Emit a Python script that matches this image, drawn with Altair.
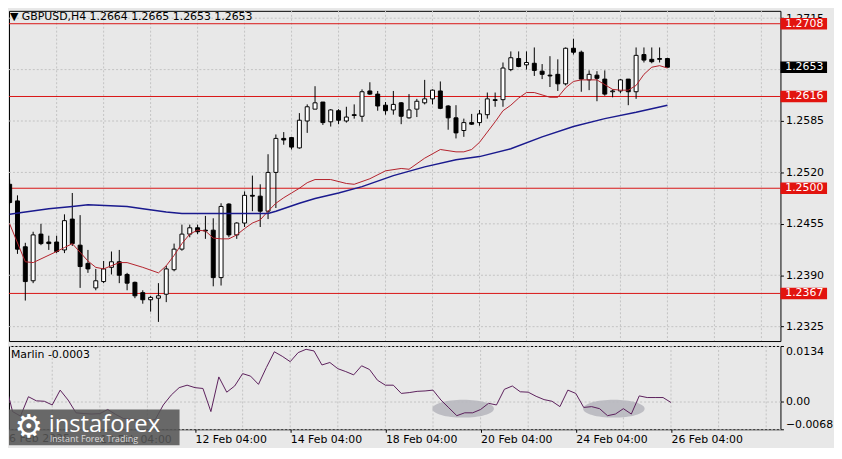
import json
import altair as alt
import pandas as pd

# ---------------- data ----------------
opens = [1.2505, 1.2484, 1.2426, 1.2383, 1.2442, 1.2432, 1.2432, 1.2422, 1.2461, 1.2428,
         1.2405, 1.2374, 1.2382, 1.2400, 1.2407, 1.2391, 1.2381, 1.2368, 1.2359, 1.2361,
         1.2366, 1.2397, 1.2423, 1.2442, 1.2450, 1.2447, 1.2447, 1.2387, 1.2480, 1.2441,
         1.2456, 1.2491, 1.2490, 1.2471, 1.2520, 1.2563, 1.2564, 1.2551, 1.2585, 1.2600,
         1.2609, 1.2584, 1.2598, 1.2585, 1.2593, 1.2591, 1.2623, 1.2619, 1.2605, 1.2599,
         1.2608, 1.2589, 1.2600, 1.2608, 1.2613, 1.2623, 1.2604, 1.2589, 1.2573, 1.2583,
         1.2583, 1.2593, 1.2612, 1.2612, 1.2650, 1.2664, 1.2656, 1.2658, 1.2648, 1.2643,
         1.2644, 1.2632, 1.2677, 1.2672, 1.2637, 1.2643, 1.2638, 1.2622, 1.2623, 1.2638,
         1.2622, 1.2669, 1.2663, 1.2664, 1.2664]
highs = [1.2511, 1.2491, 1.2431, 1.2445, 1.2455, 1.2440, 1.2440, 1.2467, 1.2494, 1.2466,
         1.2422, 1.2398, 1.2408, 1.2420, 1.2422, 1.2393, 1.2382, 1.2371, 1.2364, 1.2380,
         1.2402, 1.2430, 1.2454, 1.2454, 1.2454, 1.2465, 1.2462, 1.2481, 1.2481, 1.2457,
         1.2496, 1.2516, 1.2505, 1.2543, 1.2568, 1.2571, 1.2565, 1.2595, 1.2606, 1.2629,
         1.2609, 1.2600, 1.2600, 1.2603, 1.2606, 1.2625, 1.2634, 1.2623, 1.2609, 1.2623,
         1.2609, 1.2619, 1.2613, 1.2637, 1.2625, 1.2635, 1.2605, 1.2605, 1.2588, 1.2594,
         1.2599, 1.2621, 1.2621, 1.2659, 1.2673, 1.2673, 1.2673, 1.2678, 1.2657, 1.2667,
         1.2663, 1.2678, 1.2689, 1.2674, 1.2649, 1.2648, 1.2649, 1.2625, 1.2638, 1.2638,
         1.2678, 1.2678, 1.2678, 1.2678, 1.2665]
lows = [1.2480, 1.2417, 1.2358, 1.2380, 1.2428, 1.2422, 1.2418, 1.2418, 1.2427, 1.2374,
        1.2393, 1.2371, 1.2380, 1.2391, 1.2380, 1.2371, 1.2361, 1.2354, 1.2344, 1.2331,
        1.2356, 1.2395, 1.2421, 1.2438, 1.2442, 1.2436, 1.2376, 1.2377, 1.2438, 1.2436,
        1.2451, 1.2471, 1.2451, 1.2461, 1.2475, 1.2555, 1.2549, 1.2550, 1.2570, 1.2600,
        1.2580, 1.2578, 1.2581, 1.2583, 1.2588, 1.2584, 1.2618, 1.2598, 1.2593, 1.2593,
        1.2581, 1.2588, 1.2590, 1.2606, 1.2606, 1.2600, 1.2574, 1.2563, 1.2565, 1.2580,
        1.2579, 1.2588, 1.2603, 1.2603, 1.2648, 1.2653, 1.2650, 1.2642, 1.2638, 1.2628,
        1.2623, 1.2630, 1.2669, 1.2622, 1.2624, 1.2610, 1.2617, 1.2615, 1.2620, 1.2605,
        1.2613, 1.2659, 1.2658, 1.2659, 1.2653]
closes = [1.2482, 1.2423, 1.2382, 1.2441, 1.2430, 1.2430, 1.2420, 1.2459, 1.2430, 1.2401,
          1.2398, 1.2383, 1.2398, 1.2407, 1.2390, 1.2380, 1.2364, 1.2359, 1.2362, 1.2364,
          1.2398, 1.2423, 1.2442, 1.2450, 1.2445, 1.2446, 1.2387, 1.2477, 1.2441, 1.2456,
          1.2491, 1.2490, 1.2471, 1.2520, 1.2563, 1.2561, 1.2552, 1.2586, 1.2603, 1.2608,
          1.2583, 1.2599, 1.2586, 1.2590, 1.2592, 1.2622, 1.2619, 1.2604, 1.2598, 1.2606,
          1.2591, 1.2599, 1.2610, 1.2613, 1.2624, 1.2601, 1.2589, 1.2570, 1.2583, 1.2581,
          1.2594, 1.2613, 1.2611, 1.2652, 1.2665, 1.2654, 1.2659, 1.2649, 1.2644, 1.2642,
          1.2632, 1.2677, 1.2672, 1.2638, 1.2644, 1.2639, 1.2619, 1.2623, 1.2637, 1.2622,
          1.2668, 1.2662, 1.2660, 1.2663, 1.2653]

fast_k = [0, 2, 3, 6, 7, 8, 10, 11, 12, 14, 15, 17, 19,
          20, 21, 22, 23, 24, 25, 26, 27, 28, 29, 30, 31, 32, 33, 34, 35, 36, 37, 38, 39,
          41, 43, 44, 46, 48, 50, 51, 53, 55,
          57, 58, 59, 60, 61, 62, 63, 64, 65, 66, 67, 68, 69, 70, 71, 72, 73, 74, 75, 76,
          77, 78, 79, 80, 81, 82, 83, 84]
fast_v = [1.2455, 1.2407, 1.2406, 1.2420, 1.2425, 1.2430, 1.2408, 1.2400, 1.2398, 1.2406,
          1.2406, 1.2400, 1.2393,
          1.2402, 1.2415, 1.2430, 1.2442, 1.2447, 1.2446, 1.2437, 1.2436, 1.2436, 1.2441,
          1.2449, 1.2456, 1.2460, 1.2471, 1.2481, 1.2488, 1.2494, 1.2500, 1.2507, 1.2511,
          1.2511, 1.2506, 1.2505, 1.2512, 1.2522, 1.2525, 1.2524, 1.2538, 1.2549,
          1.2546, 1.2546, 1.2549, 1.2558, 1.2571, 1.2584, 1.2598, 1.2605, 1.2614, 1.2621,
          1.2621, 1.2618, 1.2615, 1.2615, 1.2627, 1.2635, 1.2637, 1.2637, 1.2637, 1.2631,
          1.2625, 1.2624, 1.2624, 1.2630, 1.2644, 1.2653, 1.2655, 1.2652]

slow_k = [0, 2, 5, 8, 10, 15, 17, 20, 22, 27, 33, 34, 37, 39, 42, 45, 49, 53, 57, 60,
          64, 68, 72, 76, 80, 84]
slow_v = [1.2467, 1.2470, 1.2474, 1.2477, 1.2479, 1.2477, 1.2474, 1.2470, 1.2468, 1.2468,
          1.2468, 1.2471, 1.2481, 1.2487, 1.2494, 1.2502, 1.2516, 1.2527, 1.2536, 1.2540,
          1.2550, 1.2565, 1.2578, 1.2588, 1.2596, 1.2605]

marlin = [0.0051, -0.0025, -0.0036, 0.0011, 0.0001, 0.0000, -0.0009, 0.0027, 0.0003, -0.0028,
          -0.0030, -0.0031, -0.0030, -0.0020, -0.0032, -0.0042, -0.0044, -0.0046, -0.0048, -0.0044,
          -0.0009, 0.0015, 0.0033, 0.0039, 0.0033, 0.0031, -0.0025, 0.0059, 0.0022, 0.0037,
          0.0067, 0.0061, 0.0041, 0.0082, 0.0120, 0.0109, 0.0096, 0.0118, 0.0126, 0.0122,
          0.0088, 0.0094, 0.0079, 0.0072, 0.0064, 0.0086, 0.0077, 0.0051, 0.0039, 0.0039,
          0.0019, 0.0021, 0.0024, 0.0025, 0.0027, 0.0003, -0.0016, -0.0035, -0.0028, -0.0028,
          -0.0020, -0.0005, -0.0009, 0.0029, 0.0037, 0.0023, 0.0022, 0.0012, 0.0004, 0.0000,
          -0.0013, 0.0027, 0.0019, -0.0015, -0.0013, -0.0018, -0.0035, -0.0031, -0.0018, -0.0031,
          0.0013, 0.0009, 0.0009, 0.0009, -0.0003]

ellipse_k = [57.8, 76.8]
ellipse_v = [-0.0018, -0.0018]

levels = [1.2708, 1.2616, 1.2500, 1.2367]
last_price = 1.2653
price_grid = [1.2325, 1.2390, 1.2455, 1.2520, 1.2585, 1.2650, 1.2715]
price_labels = [1.2325, 1.2390, 1.2455, 1.2520, 1.2585, 1.2715]
marlin_ticks = [-0.0068, 0.0, 0.0134]
time_tick_k = [12, 24, 36, 48, 60, 72, 84]
time_tick_labels = ["10 Feb 04:00", "12 Feb 04:00", "14 Feb 04:00", "18 Feb 04:00",
                    "20 Feb 04:00", "24 Feb 04:00", "26 Feb 04:00"]
first_date_label = "6 Feb 2025"
grid_k = [6, 12, 18, 24, 30, 36, 42, 48, 54, 60, 66, 72, 78, 84, 90, 96]
title_text = "\u25BC GBPUSD,H4  1.2664 1.2665 1.2653 1.2653"
marlin_name = "Marlin"

# ---------------- styling ----------------
W, H1, H2 = 778, 333, 84
FONT = "DejaVu Sans"
BG = "#e8e8e8"
GRID = "#c2c2c2"
LEVEL_RED = "#d91414"
TAG_RED = "#e2140f"
TAG_W = 47
TAG_PATH = "M-1,-0.245L1,-0.245L1,0.245L-1,0.245Z"
ELL_PATH = "M-1,0A1,0.29 0 1,1 1,0A1,0.29 0 1,1 -1,0Z"

xs = alt.Scale(domain=[0.55, 97.8], nice=False, zero=False)
ps = alt.Scale(domain=[1.23068, 1.27243], nice=False, zero=False)
ms = alt.Scale(domain=[-0.0068, 0.0134], nice=False, zero=False)

price_axis = alt.Axis(orient="right", values=price_labels, format=".4f", title=None,
                      grid=False, domain=False,
                      tickSize=3, tickColor="#000000", labelPadding=2, labelFont=FONT,
                      labelFontSize=11, labelColor="#000000", labelFlush=False)

marlin_axis = alt.Axis(orient="right", values=marlin_ticks,
                       labelExpr="datum.value == 0 ? '0.00' : format(datum.value, '.4f')",
                       title=None, grid=True, gridColor=GRID, gridDash=[2, 2], domain=False,
                       tickSize=3, tickColor="#000000", labelPadding=2, labelFont=FONT,
                       labelFontSize=11, labelColor="#000000", labelFlush=True)

time_axis = alt.Axis(values=time_tick_k,
                     labelExpr=json.dumps(time_tick_labels) + "[round(datum.value/12) - 1]",
                     labelAlign="left", labelBaseline="top", labelPadding=1, tickSize=3,
                     tickColor="#000000", grid=False, domain=False, title=None,
                     labelFont=FONT, labelFontSize=11, labelColor="#000000",
                     labelFlush=False, labelOverlap=False)

X_main = alt.X("k:Q", scale=xs, axis=None)
X_low = alt.X("k:Q", scale=xs, axis=time_axis)


def PY(f):
    return alt.Y(f, scale=ps, axis=price_axis)


def MY(f):
    return alt.Y(f, scale=ms, axis=marlin_axis)


candles = pd.DataFrame({"k": list(range(len(opens))), "open": opens, "high": highs,
                        "low": lows, "close": closes})
grid_df = pd.DataFrame({"k": grid_k})

# ---------------- main panel ----------------
vgrid_main = alt.Chart(grid_df).mark_rule(color=GRID, strokeDash=[2, 2], strokeWidth=1).encode(x=X_main)
hgrid_main = alt.Chart(pd.DataFrame({"p": price_grid})).mark_rule(
    color=GRID, strokeDash=[2, 2], strokeWidth=1).encode(y=PY("p:Q"))
level_rules = alt.Chart(pd.DataFrame({"p": levels})).mark_rule(color=LEVEL_RED, strokeWidth=1).encode(y=PY("p:Q"))
wicks = alt.Chart(candles).mark_rule(color="#000000", strokeWidth=1, clip=True).encode(
    x=X_main, y=PY("low:Q"), y2="high:Q")
bodies = alt.Chart(candles).mark_bar(size=4, stroke="#000000", strokeWidth=1, clip=True).encode(
    x=X_main, y=PY("open:Q"), y2="close:Q",
    fill=alt.condition("datum.close >= datum.open", alt.value("#ffffff"), alt.value("#000000")))
fast_line = alt.Chart(pd.DataFrame({"k": fast_k, "p": fast_v})).mark_line(
    color="#b3202a", strokeWidth=1, clip=True).encode(x=X_main, y=PY("p:Q"))
slow_line = alt.Chart(pd.DataFrame({"k": slow_k, "p": slow_v})).mark_line(
    color="#1a1a8e", strokeWidth=1.5, clip=True).encode(x=X_main, y=PY("p:Q"))

tags_df = pd.DataFrame({"p": levels + [last_price], "kind": ["level"] * len(levels) + ["last"]})
tags = alt.Chart(tags_df).mark_point(shape=TAG_PATH, size=TAG_W * TAG_W, filled=True,
                                     opacity=1, strokeWidth=0).encode(
    x=alt.value(W + TAG_W / 2), y=PY("p:Q"),
    color=alt.Color("kind:N", scale=alt.Scale(domain=["level", "last"], range=[TAG_RED, "#000000"]),
                    legend=None))
tag_text = alt.Chart(tags_df).mark_text(align="center", baseline="middle", color="#ffffff",
                                        font=FONT, fontSize=11).encode(
    x=alt.value(W + TAG_W / 2 + 0.5), y=PY("p:Q"), text=alt.Text("p:Q", format=".4f"))
title = alt.Chart(pd.DataFrame({"t": [title_text]})).mark_text(
    align="left", baseline="middle", font=FONT, fontSize=11, color="#000000").encode(
    x=alt.value(1), y=alt.value(6), text="t:N")

main = alt.layer(vgrid_main, hgrid_main, level_rules, wicks, bodies, fast_line, slow_line,
                 tags, tag_text, title).properties(width=W, height=H1)

# ---------------- Marlin panel ----------------
vgrid_low = alt.Chart(grid_df).mark_rule(color=GRID, strokeDash=[2, 2], strokeWidth=1).encode(x=X_low)
ellipses = alt.Chart(pd.DataFrame({"k": ellipse_k, "v": ellipse_v})).mark_point(
    shape=ELL_PATH, size=62 * 62, filled=True, color="#b8b8bf", opacity=0.9, strokeWidth=0).encode(
    x=X_low, y=MY("v:Q"))
marlin_line = alt.Chart(pd.DataFrame({"k": list(range(len(marlin))), "v": marlin})).mark_line(
    color="#5b1f5b", strokeWidth=1, clip=True).encode(x=X_low, y=MY("v:Q"))
marlin_label = alt.Chart(pd.DataFrame({"t": [f"{marlin_name} {marlin[-1]:.4f}"]})).mark_text(
    align="left", baseline="middle", font=FONT, fontSize=11, color="#000000").encode(
    x=alt.value(2), y=alt.value(9), text="t:N")
first_date = alt.Chart(pd.DataFrame({"t": [first_date_label]})).mark_text(
    align="left", baseline="top", font=FONT, fontSize=11, color="#000000").encode(
    x=alt.value(0), y=alt.value(H2 + 4), text="t:N")

logo_df = pd.DataFrame({"t": ["instaforex"]})
logo_box = alt.Chart(logo_df).mark_rect(color="#555555", opacity=0.88).encode(
    x=alt.value(0), x2=alt.value(172), y=alt.value(64), y2=alt.value(100))
logo_gear = alt.Chart(pd.DataFrame({"t": ["\u2699"]})).mark_text(
    align="center", baseline="middle", font=FONT, fontSize=32, color="#ffffff").encode(
    x=alt.value(20), y=alt.value(82), text="t:N")
logo_text = alt.Chart(logo_df).mark_text(
    align="left", baseline="alphabetic", font="Open Sans", fontSize=24, color="#ffffff").encode(
    x=alt.value(40), y=alt.value(87), text="t:N")
logo_sub = alt.Chart(pd.DataFrame({"t": ["Instant Forex Trading"]})).mark_text(
    align="left", baseline="alphabetic", font="Open Sans", fontSize=9, color="#dddddd").encode(
    x=alt.value(41), y=alt.value(97), text="t:N")

lower = alt.layer(vgrid_low, ellipses, marlin_line, marlin_label, first_date,
                  logo_box, logo_gear, logo_text, logo_sub).properties(width=W, height=H2)

chart = alt.vconcat(main, lower, spacing=3).properties(
    padding=0, background=BG
).configure_view(stroke="#000000", strokeWidth=1)

chart.save("out.html", embed_options={"renderer": "svg", "actions": False})
